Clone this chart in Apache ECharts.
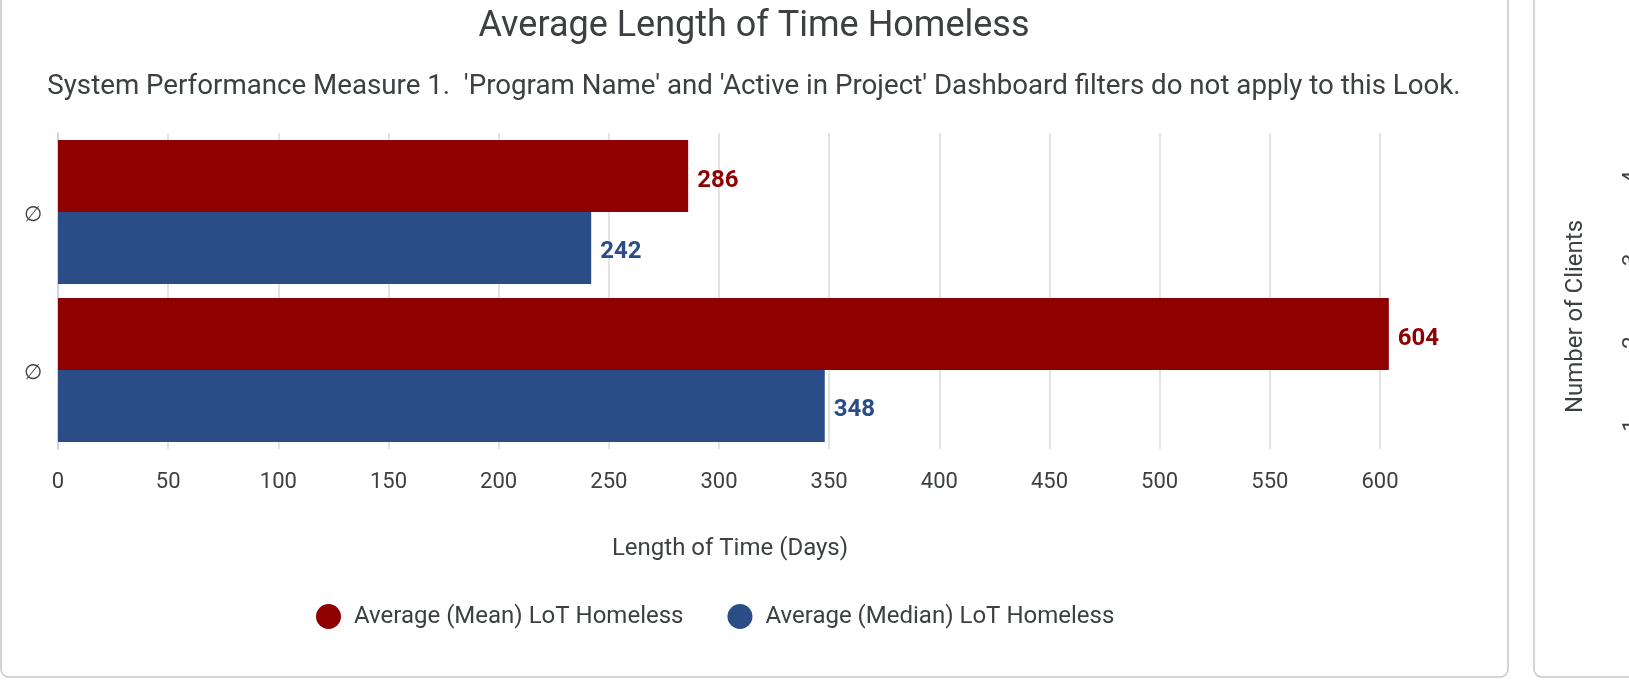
<!DOCTYPE html>
<html>
<head>
<meta charset="utf-8">
<script src="https://cdn.jsdelivr.net/npm/echarts@6/dist/echarts.min.js"></script>
<style>
  html, body { margin: 0; padding: 0; background: #fff; }
  #chart { width: 1629px; height: 682px; }
</style>
</head>
<body>
<div id="chart"></div>
<script>
// data
var categories = ['∅', '∅']
var meanLoT = [286, 604]
var medianLoT = [242, 348]
var xTicks = { min: 0, max: 600, interval: 50 }
// the next card (cut off at the right edge)
var clientTicks = { min: 0, max: 4, interval: 1 }

var RED = '#8f0000'
var BLUE = '#2a4c87'
var TEXT = '#3c4043'
var FONT = 'Roboto'

var chart = echarts.init(document.getElementById('chart'))

chart.setOption({
  textStyle: { fontFamily: FONT, color: TEXT },
  animation: false,
  title: [
    {
      text: 'Average Length of Time Homeless',
      left: 749,
      top: 4,
      textAlign: 'center',
      textStyle: { fontSize: 36, fontWeight: 400, color: TEXT, fontFamily: FONT }
    },
    {
      text: "System Performance Measure 1.  'Program Name' and 'Active in Project' Dashboard filters do not apply to this Look.",
      left: 749,
      top: 68,
      textAlign: 'center',
      textStyle: { fontSize: 27.7, fontWeight: 400, color: TEXT, fontFamily: FONT }
    }
  ],
  graphic: [
    {
      type: 'rect',
      silent: true,
      z: -10,
      shape: { x: 1, y: -20, width: 1507, height: 697, r: 8 },
      style: { fill: '#fff', stroke: '#c3c7cc', lineWidth: 1.5 }
    },
    {
      type: 'rect',
      silent: true,
      z: -10,
      shape: { x: 1534, y: -20, width: 200, height: 697, r: 8 },
      style: { fill: '#fff', stroke: '#c3c7cc', lineWidth: 1.5 }
    }
  ],
  legend: {
    left: 311,
    top: 599,
    icon: 'circle',
    itemWidth: 25,
    itemHeight: 25,
    itemGap: 44,
    textStyle: { fontSize: 24, color: TEXT, fontFamily: FONT, padding: [0, 0, 0, 8] },
    data: ['Average (Mean) LoT Homeless', 'Average (Median) LoT Homeless']
  },
  grid: [
    { left: 58, right: 249, top: 133, bottom: 233, containLabel: false },
    { left: 1660, top: 182, height: 331, width: 100 }
  ],
  xAxis: [
    {
      type: 'value',
      min: xTicks.min,
      max: xTicks.max,
      interval: xTicks.interval,
      name: 'Length of Time (Days)',
      nameLocation: 'middle',
      nameGap: 88,
      nameTextStyle: { fontSize: 24, color: TEXT, padding: [0, 0, 0, 22] },
      axisLine: { show: false },
      axisTick: { show: false },
      axisLabel: { fontSize: 22, color: TEXT, margin: 22 },
      splitLine: { lineStyle: { color: '#e3e3e3', width: 2 } }
    },
    { gridIndex: 1, type: 'value', show: false }
  ],
  yAxis: [
    {
      type: 'category',
      inverse: true,
      data: categories,
      axisLine: { show: true, lineStyle: { color: '#c9d4e6', width: 2 } },
      axisTick: { show: false },
      axisLabel: {
        margin: 16,
        formatter: '{v|{value}}',
        rich: { v: { fontSize: 21, color: TEXT, padding: [8, 0, 0, 0] } }
      }
    },
    {
      gridIndex: 1,
      type: 'value',
      min: clientTicks.min,
      max: clientTicks.max,
      interval: clientTicks.interval,
      name: 'Number of Clients',
      nameLocation: 'middle',
      nameGap: 72,
      nameTextStyle: { fontSize: 24, color: TEXT, padding: [0, 0, 0, 62] },
      axisLine: { show: false },
      axisTick: { show: false },
      splitLine: { show: false },
      axisLabel: { rotate: 90, fontSize: 22, color: TEXT, margin: 17, showMinLabel: false, padding: [0, 0, 0, 10] }
    }
  ],
  series: [
    {
      name: 'Average (Mean) LoT Homeless',
      type: 'bar',
      data: meanLoT,
      clip: false,
      barGap: '0%',
      barCategoryGap: '9%',
      itemStyle: { color: RED },
      label: {
        show: true,
        position: 'right',
        distance: 9,
        offset: [0, 5],
        color: RED,
        fontSize: 24,
        fontWeight: 'bold',
        fontFamily: FONT
      }
    },
    {
      name: 'Average (Median) LoT Homeless',
      type: 'bar',
      data: medianLoT,
      clip: false,
      barGap: '0%',
      barCategoryGap: '9%',
      itemStyle: { color: BLUE },
      label: {
        show: true,
        position: 'right',
        distance: 9,
        offset: [0, 4],
        color: BLUE,
        fontSize: 24,
        fontWeight: 'bold',
        fontFamily: FONT
      }
    }
  ]
})
</script>
</body>
</html>
